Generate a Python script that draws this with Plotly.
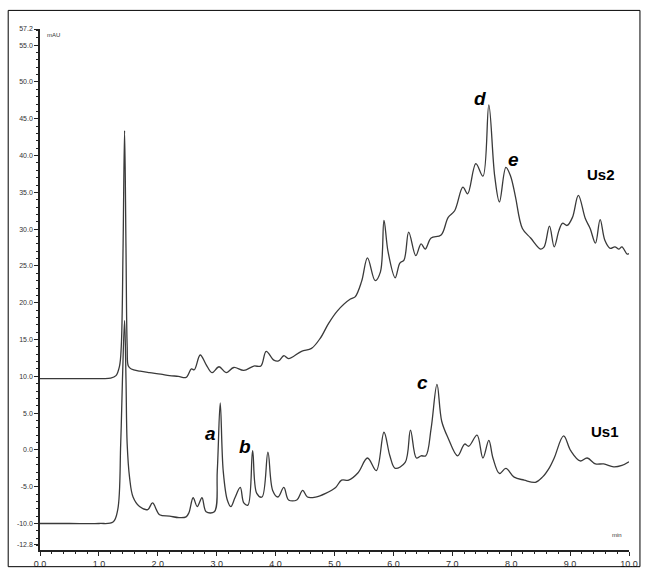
import plotly.graph_objects as go

# ---- data ----
us2_time = [0, 0.5, 1.0, 1.2, 1.29, 1.35, 1.38, 1.41, 1.436, 1.46, 1.48, 1.50, 1.55, 1.70, 1.86,
            2.05, 2.20, 2.35, 2.48, 2.57, 2.62, 2.72, 2.82, 2.92, 3.04, 3.16, 3.29, 3.46, 3.63,
            3.75, 3.84, 3.97, 4.05, 4.14, 4.22, 4.44, 4.61, 4.76, 4.90, 5.05, 5.27, 5.35, 5.46,
            5.56, 5.69, 5.78, 5.84, 5.91, 6.03, 6.11, 6.18, 6.26, 6.38, 6.47, 6.54, 6.64, 6.81,
            6.93, 7.04, 7.18, 7.26, 7.40, 7.52, 7.62, 7.72, 7.80, 7.91, 7.99, 8.07, 8.19, 8.33,
            8.50, 8.56, 8.65, 8.73, 8.81, 8.87, 8.95, 9.04, 9.14, 9.26, 9.34, 9.43, 9.51, 9.59,
            9.68, 9.76, 9.83, 9.88, 9.97, 10.0]
us2_mau = [9.7, 9.7, 9.7, 9.75, 10.1, 11.4, 14.1, 27.4, 43.4, 27.4, 14.1, 11.4, 11.0, 10.7, 10.5,
           10.3, 10.1, 10.0, 9.85, 11.0, 10.9, 12.9, 11.6, 10.5, 11.3, 10.5, 11.2, 10.8, 11.4,
           11.4, 13.4, 12.2, 12.1, 12.8, 12.4, 13.4, 13.8, 15.2, 17.2, 18.9, 20.5, 20.8, 22.9,
           26.1, 23.0, 24.2, 31.2, 26.9, 23.4, 25.4, 25.8, 29.6, 26.4, 28.0, 27.3, 28.8, 29.2,
           31.6, 32.5, 35.7, 34.8, 38.9, 37.2, 46.9, 37.2, 33.7, 38.4, 37.2, 34.5, 30.1, 28.8,
           27.3, 27.6, 30.4, 27.6, 29.8, 30.8, 30.5, 31.6, 34.6, 31.4, 30.1, 28.1, 31.3, 28.5,
           27.4, 27.6, 27.3, 27.6, 26.6, 26.7]

us1_time = [0, 0.5, 1.0, 1.24, 1.32, 1.37, 1.40, 1.436, 1.46, 1.48, 1.52, 1.58, 1.69, 1.83, 1.91,
            2.03, 2.20, 2.36, 2.48, 2.53, 2.60, 2.67, 2.75, 2.82, 2.96, 3.01, 3.06, 3.11, 3.18,
            3.24, 3.31, 3.40, 3.46, 3.53, 3.61, 3.68, 3.77, 3.87, 3.95, 4.04, 4.14, 4.22, 4.36,
            4.46, 4.54, 4.68, 4.85, 5.02, 5.12, 5.24, 5.40, 5.56, 5.71, 5.84, 5.94, 6.03, 6.20,
            6.29, 6.39, 6.47, 6.55, 6.64, 6.74, 6.82, 6.93, 7.09, 7.21, 7.28, 7.42, 7.52, 7.62,
            7.69, 7.80, 7.91, 8.05, 8.22, 8.41, 8.53, 8.65, 8.73, 8.89, 9.01, 9.17, 9.29, 9.43,
            9.57, 9.74, 9.88, 10.0]
us1_mau = [-10, -10, -10, -9.8, -8.1, 0.8, 9.6, 17.6, 9.6, 0.8, -3.7, -6.4, -7.7, -8.1, -7.2,
           -8.8, -9.0, -9.2, -9.1, -8.5, -6.5, -7.7, -6.5, -8.4, -8.4, -2.8, 6.4, -2.8, -6.8,
           -7.7, -6.5, -5.1, -7.2, -7.5, -0.1, -5.9, -6.4, -0.3, -5.5, -6.4, -5.1, -6.8, -6.8,
           -5.5, -6.4, -6.4, -5.9, -5.1, -4.1, -4.1, -3.1, -1.1, -2.8, 2.4, -0.8, -2.5, -1.7,
           2.7, -1.1, -0.8, -0.8, 2.9, 8.9, 3.9, 1.6, -0.8, 0.8, 0.5, 2.0, -1.1, 1.3,
           -1.1, -3.2, -2.5, -3.7, -4.1, -4.4, -3.7, -2.4, -1.1, 1.9, -0.1, -1.5, -1.1, -1.9,
           -1.9, -2.3, -2.1, -1.6]

x_ticks = [0.0, 1.0, 2.0, 3.0, 4.0, 5.0, 6.0, 7.0, 8.0, 9.0, 10.0]
x_tick_labels = ["0.0", "1.0", "2.0", "3.0", "4.0", "5.0", "6.0", "7.0", "8.0", "9.0", "10.0"]
y_ticks = [-12.8, -10, -5, 0, 5, 10, 15, 20, 25, 30, 35, 40, 45, 50, 55, 57.2]
y_tick_labels = ["-12.8", "-10.0", "-5.0", "0.0", "5.0", "10.0", "15.0", "20.0", "25.0",
                 "30.0", "35.0", "40.0", "45.0", "50.0", "55.0", "57.2"]

peak_labels = ["a", "b", "c", "d", "e"]
peak_label_time = [2.89, 3.48, 6.50, 7.47, 8.04]
peak_label_mau = [2.3, 0.5, 9.2, 47.7, 39.5]
trace_names = ["Us2", "Us1"]
trace_name_time = [9.53, 9.59]
trace_name_mau = [37.4, 2.5]

assert len(us2_time) == len(us2_mau)
assert len(us1_time) == len(us1_mau)

LINE = "#3a3a3a"
fig = go.Figure()
fig.add_trace(go.Scatter(x=us2_time, y=us2_mau, mode="lines", name="Us2",
                         line=dict(color=LINE, width=1.3, shape="spline", smoothing=1.0)))
fig.add_trace(go.Scatter(x=us1_time, y=us1_mau, mode="lines", name="Us1",
                         line=dict(color=LINE, width=1.3, shape="spline", smoothing=1.0)))

for t, xx, yy in zip(peak_labels, peak_label_time, peak_label_mau):
    fig.add_annotation(x=xx, y=yy, text="<b><i>%s</i></b>" % t, showarrow=False,
                       font=dict(family="Liberation Sans, Arial", size=19, color="black"))
for t, xx, yy in zip(trace_names, trace_name_time, trace_name_mau):
    fig.add_annotation(x=xx, y=yy, text="<b>%s</b>" % t, showarrow=False,
                       font=dict(family="Liberation Sans, Arial", size=15, color="black"))

fig.add_annotation(x=0.008, y=56.4, xref="paper", yref="y", text="mAU", showarrow=False,
                   xanchor="left", font=dict(family="Liberation Sans, Arial", size=6, color="#333"))
fig.add_annotation(x=0.98, y=-11.6, xref="paper", yref="y", text="min", showarrow=False,
                   xanchor="center", font=dict(family="Liberation Sans, Arial", size=6, color="#333"))

# outer frame around the whole picture
fig.add_shape(type="rect", xref="paper", yref="paper", x0=-0.054, x1=1.0186, y0=-0.032, y1=1.0357,
              line=dict(color="black", width=1), fillcolor="rgba(0,0,0,0)", layer="above")

fig.update_layout(
    width=650, height=581,
    margin=dict(l=40, r=18, t=29, b=20),
    paper_bgcolor="white", plot_bgcolor="white",
    showlegend=False,
    font=dict(family="Liberation Sans, Arial", color="#333"),
)
fig.update_xaxes(range=[0, 10], tickmode="array", tickvals=x_ticks, ticktext=x_tick_labels,
                 showgrid=False, zeroline=False, showline=True, linecolor="#222", linewidth=1.5,
                 ticks="outside", ticklen=4, tickcolor="#222", tickfont=dict(size=9, color="#333"),
                 minor=dict(tickmode="linear", tick0=0, dtick=0.2, ticks="outside", ticklen=2,
                            tickcolor="#222", showgrid=False))
fig.update_yaxes(range=[-13.6, 57.2], tickmode="array", tickvals=y_ticks, ticktext=y_tick_labels,
                 showgrid=False, zeroline=False, showline=True, linecolor="#222", linewidth=1.5,
                 ticks="outside", ticklen=4, tickcolor="#222", tickfont=dict(size=7, color="#333"),
                 minor=dict(tickmode="linear", tick0=0, dtick=1, ticks="outside", ticklen=2,
                            tickcolor="#222", showgrid=False))

fig.write_html("out.html", config={"displayModeBar": False},
               post_script="document.body.style.margin='0';document.body.style.overflow='hidden';")
